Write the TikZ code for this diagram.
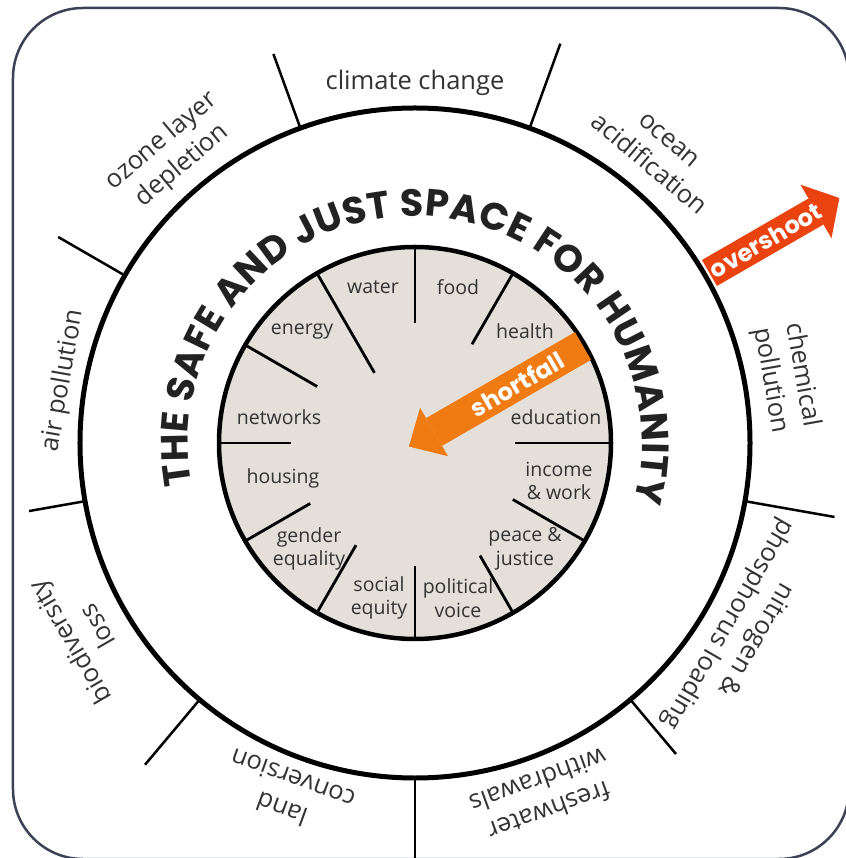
\documentclass[tikz,border=0pt]{standalone}
\usepackage{fontspec}
\setmainfont{Open Sans}
\newfontfamily\titlefont{Poppins}
\usetikzlibrary{arrows.meta, decorations.text}
\definecolor{framegray}{HTML}{3B4256}
\definecolor{donutbeige}{HTML}{E4DFD8}
\definecolor{shortorange}{HTML}{F07B12}
\definecolor{overred}{HTML}{EA4310}
\definecolor{labelgray}{HTML}{333333}
\definecolor{titlegray}{HTML}{222222}
\tikzset{
  outerlabel/.style = {text=labelgray, align=center, font=\fontsize{25.5}{32}\selectfont},
  innerlabel/.style = {text=labelgray, align=center, font=\fontsize{19.5}{23.5}\selectfont},
  outertick/.style = {line width=2.5pt},
  innertick/.style = {line width=2.8pt},
  arrowlabel/.style = {text=white, font=\titlefont\bfseries\fontsize{24}{28}\selectfont}
}

\begin{document}
\begin{tikzpicture}[x=1pt, y=1pt]
% 画像の範囲と外枠
\useasboundingbox (-415,-415) rectangle (430,443);
\draw[framegray, line width=2.5pt, rounded corners=70pt] (-402,435) rectangle (434,-416);

% 内側の円（社会的な土台）
\fill[donutbeige] (0,0) circle (196);
\foreach \a/\r in {0/100, 60/114, 90/120, 120/81, 150/113, 180/124, 210/121, 240/118, 270/123, 300/130, 330/113}
  \draw[innertick] (\a:\r) -- (\a:196);
\draw[line width=4.5pt] (0,0) circle (196);

% 外側の円と区切り線
\draw[line width=5pt] (0,0) circle (335);
\foreach \a/\r in {70/425, 110/414, 150/412, 190/392, 230/420, 270/430, 310/406, 350/426}
  \draw[outertick] (\a:335) -- (\a:\r);

% 円弧に沿ったタイトル
\path[decorate, decoration={text along path, text color=titlegray, text align={fit to path},
  text={|\titlefont\bfseries\fontsize{38}{44}\selectfont|THE SAFE AND JUST SPACE FOR HUMANITY}}]
  (190.5:227) arc[start angle=190.5, end angle=-15, radius=227];

% 外側のラベル
\node[outerlabel] (climate) at (90:360) {climate change};
\node[outerlabel, rotate=-40] (ocean) at (50:379) {ocean\\acidification};
\node[outerlabel, rotate=-80] (chemical) at (10:377) {chemical\\pollution};
\node[outerlabel, rotate=-120] (nitrogen) at (-30:377) {nitrogen \&\\phosphorus loading};
\node[outerlabel, rotate=-160] (freshwater) at (-70:376) {freshwater\\withdrawals};
\node[outerlabel, rotate=160] (land) at (-110:374) {land\\conversion};
\node[outerlabel, rotate=120] (biodiversity) at (-150:383) {biodiversity\\loss};
\node[outerlabel, rotate=80] (air) at (170:357) {air pollution};
\node[outerlabel, rotate=40] (ozone) at (130:378) {ozone layer\\depletion};

% 内側のラベル
\node[innerlabel] (water) at (-42,156) {water};
\node[innerlabel] (food) at (43,156) {food};
\node[innerlabel] (health) at (110,112) {health};
\node[innerlabel] (education) at (141,26) {education};
\node[innerlabel] (income) at (144,-38) {income\\\& work};
\node[innerlabel] (peace) at (110,-106) {peace \&\\justice};
\node[innerlabel] (political) at (43,-155) {political\\voice};
\node[innerlabel] (social) at (-36,-155) {social\\equity};
\node[innerlabel] (gender) at (-106,-106) {gender\\equality};
\node[innerlabel] (housing) at (-132,-35) {housing};
\node[innerlabel] (networks) at (-136,26) {networks};
\node[innerlabel] (energy) at (-113,111) {energy};

% 不足の矢印
\coordinate (S1) at (30:194);
\coordinate (S2) at (210:7);
\draw[shortorange, line width=32pt, -{Triangle[length=29pt, width=56pt, line width=0pt]}] (S1) -- (S2);
\node[arrowlabel, rotate=30] (shortfall) at (30:118) {shortfall};

% 超過の矢印
\coordinate (O1) at (30:340);
\coordinate (O2) at (30:490);
\draw[overred, line width=30pt, -{Triangle[length=27pt, width=62pt, line width=0pt]}] (O1) -- (O2);
\node[arrowlabel, rotate=30] (overshoot) at (30:405) {overshoot};
\end{tikzpicture}
\end{document}
